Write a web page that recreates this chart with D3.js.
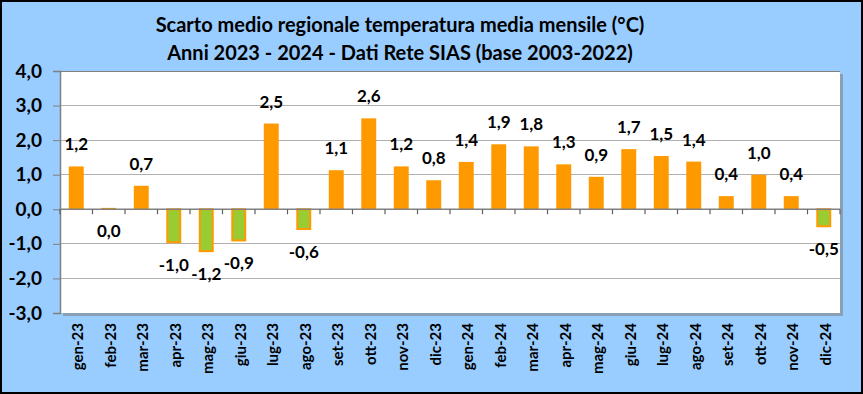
<!DOCTYPE html>
<html><head><meta charset="utf-8">
<script src="https://cdn.jsdelivr.net/npm/d3@7"></script>
<style>
html,body{margin:0;padding:0;background:#fff;}
svg{display:block;}
text{font-family:Lato,"DejaVu Sans",sans-serif;font-weight:bold;fill:#000;}
</style></head>
<body>
<svg id="chart" width="863" height="394"></svg>
<script>
const titleLines = ["Scarto medio regionale temperatura media mensile (°C)",
                    "Anni 2023 - 2024 - Dati Rete SIAS (base 2003-2022)"];
const months = ["gen-23","feb-23","mar-23","apr-23","mag-23","giu-23","lug-23","ago-23","set-23","ott-23","nov-23","dic-23",
                "gen-24","feb-24","mar-24","apr-24","mag-24","giu-24","lug-24","ago-24","set-24","ott-24","nov-24","dic-24"];
const anomalies = [1.24,0.04,0.68,-0.98,-1.24,-0.93,2.48,-0.60,1.13,2.63,1.24,0.84,
                   1.37,1.88,1.82,1.30,0.94,1.74,1.54,1.38,0.38,1.00,0.38,-0.52];
const yTicks = [-3,-2,-1,0,1,2,3,4];

const W = 863, H = 394;
const plot = {left:60, right:840, top:71, bottom:313};
const svg = d3.select("#chart");
const loc = d3.formatLocale({decimal:",", thousands:".", grouping:[3], currency:["","€"], minus:"-"});
const fmt = loc.format(".1f");

// background
svg.append("rect").attr("x",1).attr("y",1).attr("width",W-2).attr("height",H-2)
  .attr("fill","#99CCFF").attr("stroke","#000").attr("stroke-width",2);

const x = d3.scaleBand().domain(months).range([plot.left,plot.right]).paddingInner(0.54).paddingOuter(0.27);
const y = d3.scaleLinear().domain([-3,4]).range([plot.bottom,plot.top]);

// plot shadow + area
svg.append("rect").attr("x",plot.left+3).attr("y",plot.top+3).attr("width",plot.right-plot.left).attr("height",plot.bottom-plot.top)
  .attr("fill","#808080").attr("opacity",0.6);
svg.append("rect").attr("x",plot.left).attr("y",plot.top).attr("width",plot.right-plot.left).attr("height",plot.bottom-plot.top)
  .attr("fill","#fff");

// gridlines
svg.append("g").selectAll("line").data(yTicks.filter(d=>d!==0 && d!==-3)).join("line")
  .attr("x1",plot.left).attr("x2",plot.right).attr("y1",d=>y(d)).attr("y2",d=>y(d))
  .attr("stroke",d=>d===4?"#808080":"#B0B0B0").attr("stroke-width",1).attr("shape-rendering","crispEdges");

// y axis
const yAxis = d3.axisLeft(y).tickValues(yTicks).tickFormat(fmt).tickSize(7).tickPadding(11);
const gy = svg.append("g").attr("transform",`translate(${plot.left},0)`).call(yAxis);
gy.select(".domain").attr("stroke","#808080").attr("stroke-width",1.5);
gy.selectAll(".tick line").attr("stroke","#808080");
gy.selectAll(".tick text").attr("font-size",19).attr("font-family","Lato").attr("font-weight","bold").attr("fill","#000");

// bars
svg.append("g").selectAll("rect").data(months.map((m,i)=>({m,v:anomalies[i]}))).join("rect")
  .attr("x",d=>x(d.m)+(d.v<0?1:0)).attr("width",d=>x.bandwidth()-(d.v<0?2:0))
  .attr("y",d=>d.v>=0?y(d.v):y(0))
  .attr("height",d=>d.v>=0?y(0)-y(d.v):y(d.v)-y(0)-1)
  .attr("fill",d=>d.v<0?"#99CC33":"#FF9900")
  .attr("stroke",d=>d.v<0?"#FF9900":"none").attr("stroke-width",2);

// x axis line + ticks at zero
const step = x.step();
const x0 = x(months[0]) - x.step()*x.paddingOuter();
svg.append("line").attr("x1",plot.left).attr("x2",plot.right).attr("y1",y(0)).attr("y2",y(0))
  .attr("stroke","#808080").attr("stroke-width",1.5);
svg.append("g").selectAll("line").data(d3.range(months.length+1)).join("line")
  .attr("x1",i=>x0+i*step).attr("x2",i=>x0+i*step).attr("y1",y(0)).attr("y2",y(0)+5)
  .attr("stroke","#606060").attr("stroke-width",1.2);

// data labels
svg.append("g").selectAll("text").data(months.map((m,i)=>({m,v:anomalies[i]}))).join("text")
  .attr("x",d=>x(d.m)+x.bandwidth()/2)
  .attr("y",d=>d.v>=0.05?y(d.v)-16:y(Math.min(d.v,0))+28)
  .attr("text-anchor","middle").attr("font-size",17)
  .text(d=>fmt(d.v));

// x labels
svg.append("g").selectAll("text").data(months).join("text")
  .attr("transform",d=>`translate(${x(d)+x.bandwidth()/2+7},323) rotate(-90)`)
  .attr("text-anchor","end").attr("font-size",15).text(d=>d);

// title
svg.append("g").selectAll("text").data(titleLines).join("text")
  .attr("x",400).attr("y",(d,i)=>32+i*28).attr("text-anchor","middle").attr("font-size",20).text(d=>d);
</script>
</body></html>
